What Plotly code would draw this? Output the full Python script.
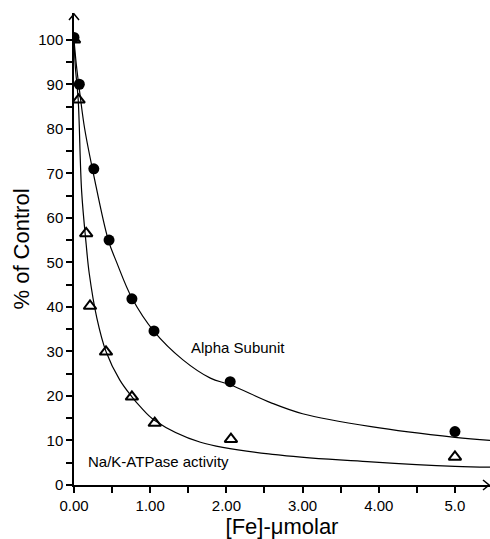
import plotly.graph_objects as go

# Measured points
alpha_x = [0, 0.07, 0.26, 0.46, 0.76, 1.05, 2.05, 5.0]
alpha_y = [100.5, 90, 71, 55, 41.8, 34.6, 23.2, 12]
atp_x = [0, 0.06, 0.16, 0.21, 0.42, 0.76, 1.06, 2.06, 5.0]
atp_y = [100, 86.5, 56.5, 40.2, 29.9, 19.8, 13.9, 10.3, 6.3]

# Fitted curves
alpha_fit_x = [0, 0.03, 0.08, 0.14, 0.26, 0.45, 0.56, 0.76, 1.05, 1.43, 1.79, 2.05, 2.58, 3.0, 3.9, 5.0, 5.46]
alpha_fit_y = [100, 94.5, 87.5, 80, 69.5, 55, 50, 42, 34.5, 28.1, 24, 22.5, 18.5, 16, 13.1, 10.7, 10]
atp_fit_x = [0, 0.017, 0.055, 0.1, 0.16, 0.2, 0.3, 0.42, 0.6, 0.76, 0.87, 1.06, 1.66, 2.71, 3.9, 5.0, 5.46]
atp_fit_y = [100, 94, 86.5, 66, 54, 47.5, 37.5, 30, 23.6, 19.8, 17.6, 14.5, 9.6, 6.7, 5.2, 4.2, 4.0]

x_tickvals = [0, 0.5, 1, 1.5, 2, 2.5, 3, 3.5, 4, 4.5, 5]
x_ticktext = ["0.00", "", "1.00", "", "2.00", "", "3.00", "", "4.00", "", "5.0"]
y_tickvals = list(range(0, 101, 5))
y_ticktext = [str(v) if v % 10 == 0 else "" for v in y_tickvals]

FONT = "Liberation Sans, Arial, Helvetica, sans-serif"

fig = go.Figure()
fig.add_trace(go.Scatter(x=alpha_fit_x, y=alpha_fit_y, mode="lines",
                         line=dict(color="black", width=1.2, shape="spline"),
                         showlegend=False, hoverinfo="skip"))
fig.add_trace(go.Scatter(x=atp_fit_x, y=atp_fit_y, mode="lines",
                         line=dict(color="black", width=1.2, shape="spline"),
                         showlegend=False, hoverinfo="skip"))
fig.add_trace(go.Scatter(x=alpha_x, y=alpha_y, mode="markers",
                         marker=dict(symbol="circle", size=11, color="black"),
                         showlegend=False))
fig.add_trace(go.Scatter(x=atp_x, y=atp_y, mode="markers",
                         marker=dict(symbol="triangle-up-open", size=11, color="black",
                                     line=dict(width=2, color="black")),
                         showlegend=False))

fig.add_annotation(x=2.15, y=30.8, text="Alpha Subunit", showarrow=False,
                   font=dict(size=15, color="black", family=FONT))
fig.add_annotation(x=1.115, y=5.2, text="Na/K-ATPase activity", showarrow=False,
                   font=dict(size=15, color="black", family=FONT))

# axis arrowheads
fig.add_shape(type="path", xref="paper", yref="paper", xsizemode="pixel", ysizemode="pixel",
              xanchor=1, yanchor=0, path="M -7 5 L -1 0 L -7 -5",
              line=dict(color="black", width=1.5))
fig.add_shape(type="path", xref="paper", yref="paper", xsizemode="pixel", ysizemode="pixel",
              xanchor=0, yanchor=1, path="M -5 -7 L 0 -1 L 5 -7",
              line=dict(color="black", width=1.5))

fig.update_layout(
    width=490, height=539,
    margin=dict(l=74, r=0, t=13, b=54),
    paper_bgcolor="white", plot_bgcolor="white",
    font=dict(family=FONT, color="black"),
    xaxis=dict(range=[0, 5.46], showgrid=False, zeroline=False, showline=True,
               linecolor="black", linewidth=1.5, ticks="outside", ticklen=6,
               tickwidth=1.5, tickcolor="black", tickvals=x_tickvals, ticktext=x_ticktext,
               tickfont=dict(size=15), title=dict(text="[Fe]-μmolar", font=dict(size=22), standoff=0)),
    yaxis=dict(range=[0, 106], showgrid=False, zeroline=False, showline=True,
               linecolor="black", linewidth=1.5, ticks="outside", ticklen=6,
               tickwidth=1.5, tickcolor="black", tickvals=y_tickvals, ticktext=y_ticktext,
               tickfont=dict(size=15), title=dict(text="% of Control", font=dict(size=22), standoff=3)),
)

fig.write_html("out.html", config={"displayModeBar": False},
               post_script="document.body.style.margin='0';document.body.style.overflow='hidden';")
